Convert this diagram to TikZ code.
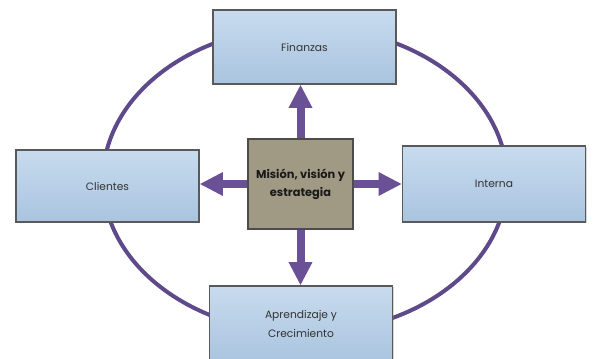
\documentclass[tikz,border=0pt]{standalone}
\usepackage{fontspec}
\setmainfont{Poppins}
\usetikzlibrary{arrows.meta,shadows}
\definecolor{boxtop}{HTML}{C8DBEE}
\definecolor{boxbot}{HTML}{A9C4DF}
\definecolor{corefill}{HTML}{A09A84}
\definecolor{ringcol}{HTML}{5E4A8A}
\definecolor{linkcol}{HTML}{6A5095}

\begin{document}
\begin{tikzpicture}
[
  x=0.025cm, y=-0.025cm,
  box/.style={draw=black!65,line width=0.8pt,top color=boxtop,bottom color=boxbot,
    minimum width=4.575cm,minimum height=1.85cm,align=center,text=black!80,
    font=\fontsize{7.6}{13.5}\selectfont,
    drop shadow={shadow xshift=0.7pt,shadow yshift=-0.7pt,opacity=0.3}},
  core/.style={draw=black!70,line width=0.8pt,fill=corefill,
    minimum width=2.625cm,minimum height=2.25cm,align=center,text=black!90,
    font=\bfseries\fontsize{8.1}{12.8}\selectfont,
    drop shadow={shadow xshift=0.7pt,shadow yshift=-0.7pt,opacity=0.3}},
  link/.style={draw=linkcol,line width=0.2cm,-{Triangle[length=0.58cm,width=0.55cm]}},
  ring/.style={draw=ringcol,line width=0.1cm}
]

\useasboundingbox (0,0) rectangle (593,358);

\draw[ring] (305,180) ellipse [x radius=5.05cm, y radius=3.825cm];

\node[box] (fin) at (304.5,47) {Finanzas};
\node[box,minimum height=1.8cm] (cli) at (107.5,186) {Clientes};
\node[box,minimum height=1.9cm] (int) at (494,184) {Interna};
\node[box,minimum height=1.9cm] (apr) at (301,324) {Aprendizaje y\\Crecimiento};
\node[core] (mv) at (300.5,184) {Misión, visión y\\estrategia};

\draw[link] (mv.north) -- (mv.north |- fin.south);
\draw[link] (mv.west) -- (mv.west -| cli.east);
\draw[link] (mv.east) -- (mv.east -| int.west);
\draw[link] (mv.south) -- (mv.south |- apr.north);

\end{tikzpicture}
\end{document}
